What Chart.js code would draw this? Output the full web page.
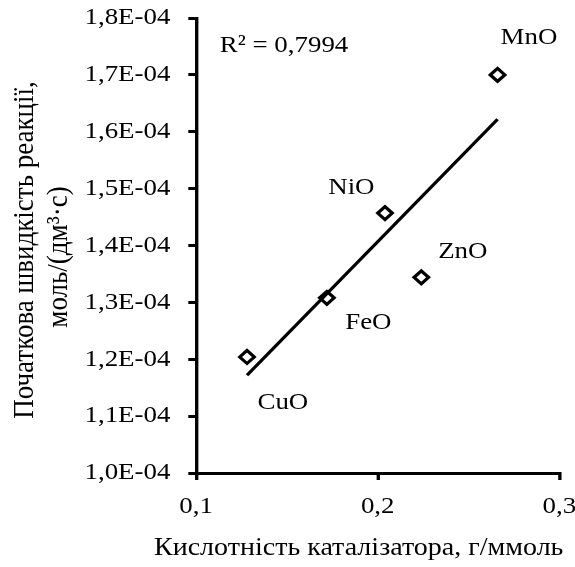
<!DOCTYPE html>
<html lang="uk">
<head>
  <meta charset="UTF-8" />
  <title>Швидкість реакції від кислотності</title>
  <script src="https://cdn.jsdelivr.net/npm/chart.js"></script>
  <style>
    html, body { margin: 0; padding: 0; background: #fff; }
    #grafico { display: block; }
  </style>
</head>
<body>

<canvas id="grafico" width="513" height="567"></canvas>

<script>
  // дані
  const oksydy = ['CuO', 'FeO', 'NiO', 'ZnO', 'MnO'];
  const kyslotnist = [0.128, 0.172, 0.204, 0.224, 0.266];
  const shvydkist = [1.204e-4, 1.308e-4, 1.457e-4, 1.344e-4, 1.700e-4];
  const trendX = [0.128, 0.266];
  const trendY = [1.172e-4, 1.622e-4];
  const r2Tekst = 'R² = 0,7994';
  const xTicks = [0.1, 0.2, 0.3];
  const yTicks = [1.0e-4, 1.1e-4, 1.2e-4, 1.3e-4, 1.4e-4, 1.5e-4, 1.6e-4, 1.7e-4, 1.8e-4];
  const xNazva = 'Кислотність каталізатора, г/ммоль';
  const yNazva = ['Початкова швидкість реакції,', 'моль/(дм³·с)'];

  const SERIF = '"Liberation Serif", "Times New Roman", serif';
  // оригінал трохи розтягнутий по горизонталі
  const SHYRYNA = 575;
  const LOG_SHYRYNA = 513;

  // зсуви підписів оксидів відносно точок
  const zsuvy = {
    CuO: [32, 46],
    FeO: [37, 25],
    NiO: [-30, -25],
    ZnO: [37, -26],
    MnO: [28, -37]
  };

  const pidpysy = {
    id: 'pidpysy',
    afterDraw(chart) {
      const ctx = chart.ctx;
      const sx = chart.scales.x;
      const sy = chart.scales.y;
      const area = chart.chartArea;
      ctx.save();
      ctx.fillStyle = '#000';

      ctx.font = '24px ' + SERIF;
      ctx.textAlign = 'center';
      ctx.textBaseline = 'middle';
      oksydy.forEach((nazva, i) => {
        const px = sx.getPixelForValue(kyslotnist[i]);
        const py = sy.getPixelForValue(shvydkist[i]);
        ctx.fillText(nazva, px + zsuvy[nazva][0], py + zsuvy[nazva][1]);
      });

      ctx.textAlign = 'left';
      ctx.textBaseline = 'alphabetic';
      ctx.fillText(r2Tekst, area.left + 21, 52);

      // назва осі X
      ctx.font = '25px ' + SERIF;
      ctx.textAlign = 'center';
      ctx.fillText(xNazva, 320, 555);

      // назва осі Y, два рядки
      ctx.font = '27px ' + SERIF;
      [[29, 250], [60, 257]].forEach((p, i) => {
        ctx.save();
        ctx.translate(p[0], p[1]);
        ctx.rotate(-Math.PI / 2);
        ctx.fillText(yNazva[i], 0, 0);
        ctx.restore();
      });
      ctx.restore();
    }
  };

  function fmtY(v) {
    return (v * 1e4).toFixed(1).replace('.', ',') + 'E-04';
  }

  const osi = {
    border: { display: true, color: '#000', width: 3 },
    grid: { display: true, drawOnChartArea: false, color: '#000', lineWidth: 3, tickLength: 7 }
  };

  const canvas = document.getElementById('grafico');
  const grafico = new Chart(canvas, {
    type: 'scatter',
    data: {
      datasets: [
        {
          label: 'Тренд',
          type: 'line',
          data: trendX.map((x, i) => ({ x: x, y: trendY[i] })),
          borderColor: '#000',
          borderWidth: 3,
          pointRadius: 0,
          fill: false
        },
        {
          label: 'Оксиди',
          data: kyslotnist.map((x, i) => ({ x: x, y: shvydkist[i] })),
          pointStyle: 'rectRot',
          pointRadius: 6.5,
          pointBorderWidth: 3,
          pointBorderColor: '#000',
          pointBackgroundColor: '#fff'
        }
      ]
    },
    options: {
      responsive: false,
      animation: false,
      layout: { padding: { left: 0, top: 18, right: 14, bottom: 0 } },
      plugins: {
        legend: { display: false },
        tooltip: { enabled: false }
      },
      scales: {
        x: {
          type: 'linear',
          min: 0.1,
          max: 0.3,
          afterBuildTicks: s => { s.ticks = xTicks.map(v => ({ value: v })); },
          afterFit: s => { s.height = 567 - 473; s.paddingLeft = 0; s.paddingRight = 0; },
          ...osi,
          ticks: {
            color: '#000',
            padding: 12,
            maxRotation: 0,
            font: { family: SERIF, size: 24 },
            callback: v => String(v).replace('.', ',')
          }
        },
        y: {
          type: 'linear',
          min: 1.0e-4,
          max: 1.8e-4,
          afterBuildTicks: s => { s.ticks = yTicks.map(v => ({ value: v })); },
          afterFit: s => { s.width = 175; s.paddingTop = 0; s.paddingBottom = 0; },
          ...osi,
          ticks: {
            color: '#000',
            padding: 16,
            font: { family: SERIF, size: 24 },
            callback: v => fmtY(v)
          }
        }
      }
    },
    plugins: [pidpysy]
  });

  // розтягуємо малюнок по горизонталі до 575 px, як в оригіналі
  canvas.width = SHYRYNA;
  canvas.style.width = SHYRYNA + 'px';
  canvas.getContext('2d').setTransform(SHYRYNA / LOG_SHYRYNA, 0, 0, 1, 0, 0);
  grafico.draw();
</script>

</body>
</html>
